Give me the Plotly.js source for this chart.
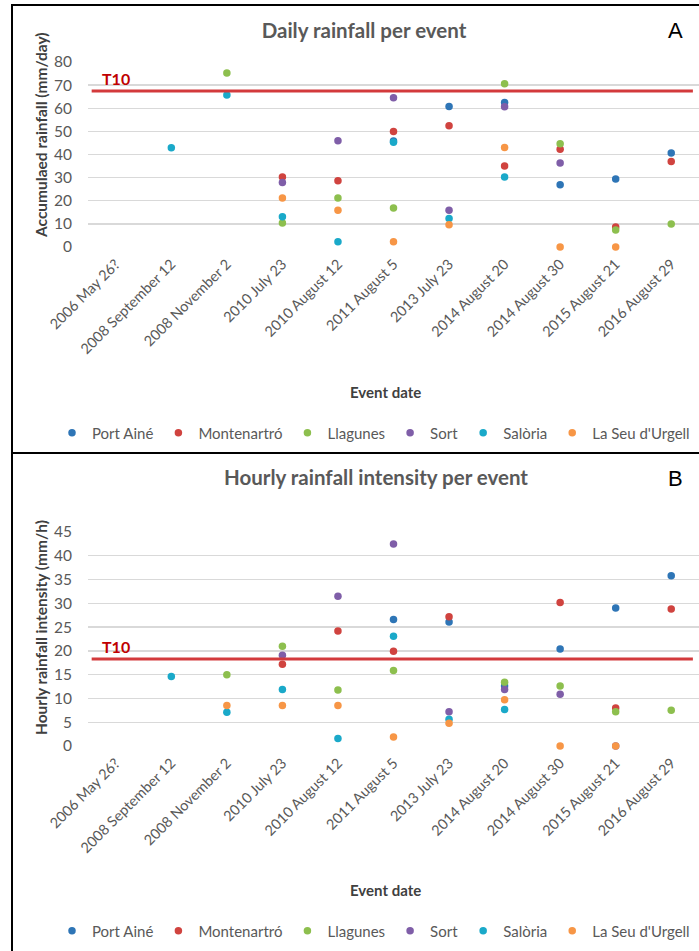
<!DOCTYPE html>
<html>
<head>
<meta charset="utf-8">
<script src="https://cdn.plot.ly/plotly-3.0.1.min.js"></script>
<style>
html,body{margin:0;padding:0;width:699px;height:951px;overflow:hidden;background:#fff;}
#a{position:absolute;left:0;top:0;width:699px;height:452px;}
#b{position:absolute;left:0;top:452px;width:699px;height:499px;}
.frame{position:absolute;border:2px solid #000;pointer-events:none;box-sizing:border-box;}
</style>
</head>
<body>
<div id="a"></div>
<div id="b"></div>
<div class="frame" style="left:11px;top:4px;width:720px;height:450px;"></div>
<div class="frame" style="left:11px;top:452px;width:720px;height:520px;"></div>
<script>
const events = ["2006 May 26?","2008 September 12","2008 November 2","2010 July 23","2010 August 12","2011 August 5","2013 July 23","2014 August 20","2014 August 30","2015 August 21","2016 August 29"];
const stations = ["Port Ainé","Montenartró","Llagunes","Sort","Salòria","La Seu d'Urgell"];
const colors = ["#2e75b6","#d0433f","#8dbf4e","#7f5ea8","#1aa9c9","#f79646"];

// Daily rainfall (mm/day), null = no data
const dailyPortAine    = [null,null,null,null,null,45.8,60.8,62.5,26.9,29.4,40.6];
const dailyMontenartro = [null,null,null,30.3,28.6,50.0,52.4,35.0,42.3,8.6,37.0];
const dailyLlagunes    = [null,null,75.2,10.4,21.2,16.9,null,70.6,44.6,7.4,10.0];
const dailySort        = [null,null,null,27.9,46.0,64.5,15.9,60.6,36.3,null,null];
const dailySaloria     = [null,42.9,65.7,13.1,2.3,45.3,12.3,30.3,null,null,null];
const dailySeu         = [null,null,null,21.2,15.9,2.3,9.6,43.0,0,0,null];

// Hourly rainfall intensity (mm/h)
const hourlyPortAine    = [null,null,null,null,null,26.6,26.1,12.6,20.4,29.0,35.8];
const hourlyMontenartro = [null,null,null,17.2,24.2,19.9,27.2,null,30.2,8.0,28.8];
const hourlyLlagunes    = [null,null,15.0,21.0,11.8,15.9,null,13.4,12.6,7.2,7.5];
const hourlySort        = [null,null,null,19.1,31.5,42.5,7.2,11.9,10.9,0,null];
const hourlySaloria     = [null,14.6,7.1,11.9,1.6,23.1,5.6,7.7,null,null,null];
const hourlySeu         = [null,null,8.5,8.5,8.5,1.9,4.8,9.7,0,0,null];

const dailyT10 = 67.5;
const hourlyT10 = 18.3;

const FONT = "Lato, 'Open Sans', sans-serif";
const GREY = "#595959";

function traces(series){
  return series.map((vals,i)=>({
    type:"scatter", mode:"markers", name:stations[i],
    x:events, y:vals, cliponaxis:false,
    marker:{color:colors[i], size:7.5},
    showlegend:true
  }));
}

function makeLayout(o){
  const H = o.H;
  const plotTop = o.t, plotBot = H - o.b, ph = plotBot - plotTop, pw = 699 - 88;
  const py = (pix)=> (plotBot - pix)/ph;   // row pixel -> paper y
  const px = (pix)=> (pix - 88)/pw;        // page pixel -> paper x
  return {
    width:699, height:H,
    margin:{l:88, r:0, t:o.t, b:o.b, pad:0},
    paper_bgcolor:"rgba(0,0,0,0)", plot_bgcolor:"#fff",
    font:{family:FONT, color:GREY, size:14},
    title:{text:o.title, font:{family:FONT, size:20.5, color:GREY, weight:"bold"},
           xref:"container", x:o.titleX/699, xanchor:"center",
           yref:"container", y:1-o.titleY/H, yanchor:"middle"},
    xaxis:{type:"category", range:[-0.5,10.5], tickangle:-45, showgrid:false, zeroline:false,
           showline:false, ticks:"", tickfont:{family:FONT, size:14.5, color:GREY},
           automargin:false, ticklabelstandoff:5},
    yaxis:{range:o.yrange, dtick:o.dtick, tick0:0, showgrid:true, gridcolor:"#d9d9d9", gridwidth:1.3,
           zeroline:false, showline:false, ticks:"", ticklen:0, ticklabelstandoff:15,
           tickfont:{family:FONT, size:15.5, color:GREY}, automargin:false},
    showlegend:true,
    legend:{orientation:"h", xref:"paper", x:px(52), xanchor:"left",
            yref:"paper", y:py(o.legY), yanchor:"middle",
            font:{family:FONT, size:15, color:GREY}, itemwidth:30, tracegroupgap:0, itemclick:false},
    shapes:[{type:"line", xref:"paper", x0:0.006, x1:0.99, yref:"y", y0:o.t10, y1:o.t10,
             line:{color:"#d33a3c", width:3}, layer:"above"}],
    annotations:[
      {text:"<b>T10</b>", xref:"x", x:0, yref:"y", y:o.t10, yanchor:"bottom", yshift:1,
       showarrow:false, font:{family:FONT, size:16, color:"#c00000"}},
      {text:o.letter, xref:"paper", x:px(675), xanchor:"center",
       yref:"paper", y:py(o.titleY), yanchor:"middle", showarrow:false,
       font:{family:"Liberation Sans, Arial, sans-serif", size:22, color:"#000"}},
      {text:"<b>Event date</b>", xref:"paper", x:px(385), xanchor:"center",
       yref:"paper", y:py(o.xtY), yanchor:"middle", showarrow:false,
       font:{family:FONT, size:15, color:"#404040"}},
      {text:"<b>"+o.ytitle+"</b>", xref:"paper", x:px(41), xanchor:"center",
       yref:"paper", y:py(o.ytY), yanchor:"middle", textangle:-90, showarrow:false,
       font:{family:FONT, size:15.5, color:"#404040"}}
    ]
  };
}

Plotly.newPlot("a",
  traces([dailyPortAine,dailyMontenartro,dailyLlagunes,dailySort,dailySaloria,dailySeu]),
  makeLayout({H:452, t:62, b:452-247, title:"Daily rainfall per event", titleX:364, titleY:31,
              yrange:[0,80], dtick:10, t10:dailyT10, ytitle:"Accumulaed rainfall (mm/day)",
              letter:"A", legY:433, xtY:392, ytY:135}),
  {staticPlot:true});

Plotly.newPlot("b",
  traces([hourlyPortAine,hourlyMontenartro,hourlyLlagunes,hourlySort,hourlySaloria,hourlySeu]),
  makeLayout({H:499, t:532-452, b:499-(746-452), title:"Hourly rainfall intensity per event", titleX:376, titleY:26,
              yrange:[0,45], dtick:5, t10:hourlyT10, ytitle:"Hourly rainfall intensity (mm/h)",
              letter:"B", legY:479, xtY:438, ytY:628-452}),
  {staticPlot:true});
</script>
</body>
</html>
